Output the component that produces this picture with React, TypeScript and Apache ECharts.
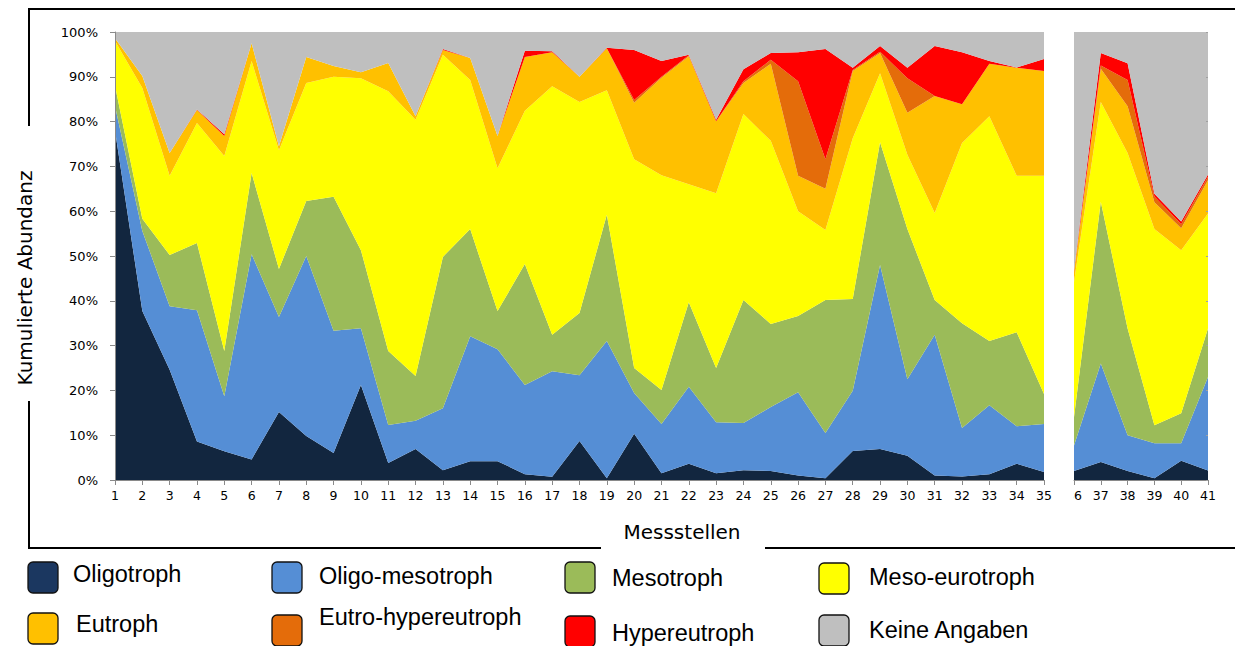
import React, { useEffect, useRef } from "react";
import * as echarts from "echarts";

const stations = [
  "1", "2", "3", "4", "5", "6", "7", "8", "9", "10",
  "11", "12", "13", "14", "15", "16", "17", "18", "19", "20",
  "21", "22", "23", "24", "25", "26", "27", "28", "29", "30",
  "31", "32", "33", "34", "35", "36", "37", "38", "39", "40", "41",
];

const seriesNames = [
  "Oligotroph",
  "Oligo-mesotroph",
  "Mesotroph",
  "Meso-eurotroph",
  "Eutroph",
  "Eutro-hypereutroph",
  "Hypereutroph",
  "Keine Angaben",
];

const colors = ["#12263F", "#558ED5", "#9BBB59", "#FFFF00", "#FFC000", "#E46C0A", "#FF0000", "#BFBFBF"];
const legendColors = ["#1B3760", "#558ED5", "#9BBB59", "#FFFF00", "#FFC000", "#E46C0A", "#FF0000", "#BFBFBF"];

const yTicks = ["0%", "10%", "20%", "30%", "40%", "50%", "60%", "70%", "80%", "90%", "100%"];

const oligotroph = [
  78, 37.7, 24.6, 8.6, 6.4, 4.6, 15.2, 9.8, 6, 21.2,
  3.8, 6.9, 2.2, 4.2, 4.2, 1.3, 0.7, 8.7, 0.4, 10.3,
  1.5, 3.6, 1.5, 2.2, 2, 1, 0.4, 6.5, 6.9, 5.4,
  1, 0.8, 1.3, 3.6, 1.8, 2, 4, 2, 0.4, 4.3, 2.1,
];
const oligoMesotroph = [
  5.5, 17.9, 14.2, 29.3, 12.3, 45.8, 21.2, 40.2, 27.3, 12.7,
  8.5, 6.3, 13.8, 27.9, 25, 19.9, 23.6, 14.7, 30.6, 9.1,
  11, 17.2, 11.4, 10.5, 14.3, 18.6, 10.1, 13.4, 41.1, 17.1,
  31.4, 10.8, 15.4, 8.4, 10.7, 5.7, 22, 8, 7.8, 3.9, 20.9,
];
const mesotroph = [
  4.5, 2.7, 11.4, 15, 10.1, 18.1, 10.7, 12.3, 29.9, 17.4,
  16.5, 10, 33.8, 23.9, 8.5, 27, 8.1, 13.9, 28.2, 5.6,
  7.6, 18.9, 12.1, 27.5, 18.5, 17, 29.7, 20.5, 27.4, 33.5,
  7.8, 23.4, 14.3, 21, 6.7, 6.3, 36.1, 23.8, 4, 6.7, 10.8,
];
const mesoEurotroph = [
  10, 29.2, 17.7, 26.8, 43.5, 25, 26.5, 26.3, 26.8, 38.4,
  58, 57.2, 45.1, 33.3, 31.9, 34.2, 55.5, 47.1, 27.8, 46.6,
  47.9, 26.3, 39, 41.5, 40.9, 23.4, 15.6, 35.9, 15.4, 16.6,
  19.4, 40.2, 50.2, 34.9, 48.7, 30.2, 22.3, 39.2, 43.8, 36.4, 25.7,
];
const eutroph = [
  0.6, 2.7, 5.1, 2.9, 4.5, 4, 0.9, 5.8, 2.4, 1.3,
  6.3, 0.8, 1.1, 4.9, 7.2, 12, 7.6, 5.6, 9.4, 12.6,
  21.8, 28.6, 16.1, 6.9, 17.2, 7.9, 9.2, 15, 4.5, 9.4,
  26.1, 8.7, 11.7, 24.1, 23.4, 2.2, 7.4, 10.4, 6, 4.9, 7.4,
];
const eutroHypereutroph = [
  0, 0, 0, 0, 0, 0, 0, 0, 0, 0,
  0, 0, 0, 0, 0, 0, 0, 0, 0, 0.6,
  0.2, 0.2, 0, 0.4, 0.9, 21.1, 6.6, 0.2, 0.3, 7.7,
  0, 0, 0, 0, 0, 0.1, 0.7, 5.9, 1.3, 0.9, 0.8,
];
const hypereutroph = [
  0, 0, 0, 0.1, 0.4, 0, 0, 0, 0, 0,
  0, 0, 0.2, 0, 0, 1.4, 0.2, 0, 0.1, 11.2,
  3.5, 0.1, 0.3, 2.7, 1.5, 6.5, 24.6, 0.5, 1.3, 2.3,
  11.2, 11.6, 0.6, 0.1, 2.7, 0.2, 2.8, 3.7, 0.6, 0.6, 0.5,
];
const keineAngaben = [
  1.4, 9.8, 27, 17.3, 22.8, 2.5, 25.5, 5.6, 7.6, 9,
  6.9, 18.8, 3.8, 5.8, 23.2, 4.2, 4.3, 10, 3.5, 4,
  6.5, 5.1, 19.6, 8.3, 4.7, 4.5, 3.8, 8, 3.1, 8,
  3.1, 4.5, 6.5, 7.9, 6, 53.3, 4.7, 7, 36.1, 42.3, 31.8,
];

const allSeries = [
  oligotroph,
  oligoMesotroph,
  mesotroph,
  mesoEurotroph,
  eutroph,
  eutroHypereutroph,
  hypereutroph,
  keineAngaben,
];

const SPLIT = 35;
const AXIS_FONT = "DejaVu Sans";
const LEGEND_FONT = "Liberation Sans";

export default function App() {
  const ref = useRef<HTMLDivElement>(null);

  useEffect(() => {
    if (!ref.current) return;
    const chart = echarts.init(ref.current, undefined, { renderer: "svg" });

    const makeSeries = (gridIdx: number) =>
      allSeries.map((vals, i) => ({
        name: seriesNames[i],
        type: "line",
        xAxisIndex: gridIdx,
        yAxisIndex: gridIdx,
        stack: gridIdx === 0 ? "main" : "extra",
        data: gridIdx === 0 ? vals.slice(0, SPLIT) : vals.slice(SPLIT),
        symbol: "none",
        lineStyle: { width: 0 },
        areaStyle: { color: colors[i], opacity: 1 },
        itemStyle: { color: colors[i] },
        z: 2,
      }));

    const legendPos = [
      { bx: 28, by: 562, tx: 73, ty: 574 },
      { bx: 272, by: 562, tx: 319, ty: 576 },
      { bx: 565, by: 562, tx: 612, ty: 578 },
      { bx: 819, by: 563, tx: 869, ty: 577 },
      { bx: 28, by: 613, tx: 76, ty: 624 },
      { bx: 272, by: 615, tx: 319, ty: 617 },
      { bx: 565, by: 616, tx: 612, ty: 633 },
      { bx: 819, by: 615, tx: 869, ty: 630 },
    ];

    const legendGraphics: any[] = [];
    seriesNames.forEach((name, i) => {
      const p = legendPos[i];
      legendGraphics.push({
        type: "rect",
        shape: { x: p.bx, y: p.by, width: 30, height: 31, r: 5 },
        style: { fill: legendColors[i], stroke: "#111", lineWidth: 1.3 },
        z: 50,
      });
      legendGraphics.push({
        type: "text",
        x: p.tx,
        y: p.ty,
        style: {
          text: name,
          fill: "#000",
          font: `23.5px "${LEGEND_FONT}"`,
          verticalAlign: "middle",
          align: "left",
        },
        z: 50,
      });
    });

    const frameStroke = { stroke: "#000", lineWidth: 2 };
    const frame = [
      { type: "line", shape: { x1: 29, y1: 9, x2: 1235, y2: 9 }, style: frameStroke },
      { type: "line", shape: { x1: 29, y1: 8, x2: 29, y2: 126 }, style: frameStroke },
      { type: "line", shape: { x1: 29, y1: 401, x2: 29, y2: 549 }, style: frameStroke },
      { type: "line", shape: { x1: 28, y1: 548, x2: 601, y2: 548 }, style: frameStroke },
      { type: "line", shape: { x1: 765, y1: 548, x2: 1235, y2: 548 }, style: frameStroke },
    ].map((g) => ({ ...g, z: 40 }));

    const option: any = {
      animation: false,
      backgroundColor: "#fff",
      grid: [
        { left: 115, top: 32, width: 929, height: 448 },
        { left: 1074, top: 32, width: 134, height: 448 },
      ],
      xAxis: [0, 1].map((g) => ({
        gridIndex: g,
        type: "category",
        data: g === 0 ? stations.slice(0, SPLIT) : stations.slice(SPLIT),
        boundaryGap: false,
        axisLine: { show: true, lineStyle: { color: "#8A8A8A", width: 1 } },
        axisTick: { show: true, interval: 0, length: 5, lineStyle: { color: "#8A8A8A" } },
        axisLabel: {
          interval: 0,
          color: "#000",
          fontFamily: AXIS_FONT,
          fontSize: 12.5,
          margin: 9,
        },
        splitLine: { show: false },
        z: 5,
      })),
      yAxis: [
        {
          gridIndex: 0,
          type: "value",
          min: 0,
          max: 100,
          interval: 10,
          axisLine: { show: true, lineStyle: { color: "#8A8A8A", width: 1 } },
          axisTick: { show: true, length: 5, lineStyle: { color: "#8A8A8A" } },
          axisLabel: {
            color: "#000",
            fontFamily: AXIS_FONT,
            fontSize: 13,
            margin: 17,
            formatter: (v: number) => yTicks[Math.round(v / 10)],
          },
          splitLine: { show: false },
          z: 5,
        },
        {
          gridIndex: 1,
          type: "value",
          position: "right",
          min: 0,
          max: 100,
          interval: 10,
          axisLine: { show: false },
          axisTick: { show: true, inside: true, length: 2, lineStyle: { color: "#A0A0A0" } },
          axisLabel: { show: false },
          splitLine: { show: false },
          z: 5,
        },
      ],
      series: [...makeSeries(0), ...makeSeries(1)],
      graphic: [
        // hide the clipped leading digit of the second panel's first label
        { type: "rect", shape: { x: 1060, y: 488, width: 13.5, height: 22 }, style: { fill: "#fff" }, z: 60 },
        ...frame,
        {
          type: "text",
          x: 25,
          y: 278,
          rotation: Math.PI / 2,
          style: {
            text: "Kumulierte Abundanz",
            fill: "#000",
            font: `20px "${AXIS_FONT}"`,
            align: "center",
            verticalAlign: "middle",
          },
          z: 50,
        },
        {
          type: "text",
          x: 682,
          y: 532,
          style: {
            text: "Messstellen",
            fill: "#000",
            font: `20px "${AXIS_FONT}"`,
            align: "center",
            verticalAlign: "middle",
          },
          z: 50,
        },
        ...legendGraphics,
      ],
    };

    chart.setOption(option);
    return () => chart.dispose();
  }, []);

  return (
    <div
      ref={ref}
      style={{ position: "fixed", left: 0, top: 0, width: 1235, height: 646, background: "#fff" }}
    />
  );
}
